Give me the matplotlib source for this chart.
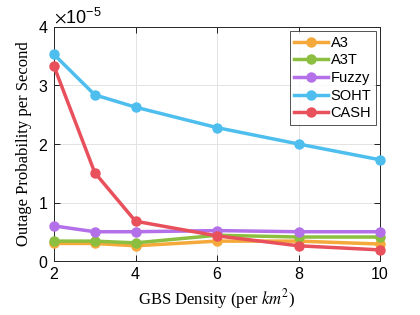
import matplotlib
matplotlib.use("Agg")
import matplotlib.pyplot as plt
from matplotlib.ticker import ScalarFormatter

density = [2, 3, 4, 6, 8, 10]
a3 = [0.30, 0.30, 0.26, 0.34, 0.34, 0.29]
a3t = [0.34, 0.34, 0.31, 0.44, 0.41, 0.41]
fuzzy = [0.60, 0.50, 0.50, 0.52, 0.50, 0.50]
soht = [3.53, 2.84, 2.63, 2.28, 2.00, 1.73]
cash = [3.33, 1.51, 0.68, 0.43, 0.26, 0.19]
scale = 1e-5

series = [("A3", a3, "#F4A93A"), ("A3T", a3t, "#8CBF3F"), ("Fuzzy", fuzzy, "#B370E8"),
          ("SOHT", soht, "#4DBEEE"), ("CASH", cash, "#E8505B")]

plt.rcParams['font.family'] = ['Liberation Sans', 'DejaVu Sans']
plt.rcParams['mathtext.fontset'] = 'stix'

fig = plt.figure(figsize=(4.2, 3.15), dpi=100)
ax = fig.add_axes([0.1286, 0.1714, 0.7762, 0.7429])
for name, vals, col in series:
    ax.plot(density, [v * scale for v in vals], '-o', color=col, lw=2.5, ms=6.5,
            label=name, clip_on=False, zorder=3)

ax.set_xlim(2, 10)
ax.set_ylim(0, 4e-5)
ax.set_xticks([2, 4, 6, 8, 10])
ax.set_yticks([0, 1e-5, 2e-5, 3e-5, 4e-5])
fmt = ScalarFormatter(useMathText=True)
fmt.set_powerlimits((0, 0))
ax.yaxis.set_major_formatter(fmt)
ax.yaxis.get_offset_text().set_fontsize(13)
ax.tick_params(direction='in', top=True, right=True, labelsize=11.5, length=4, width=0.6, pad=4)
ax.grid(True, color='#e3e3e3', lw=0.7, zorder=0)
for s in ax.spines.values():
    s.set_linewidth(0.7)
    s.set_color('#262626')

ax.set_xlabel("GBS Density (per $km^2$)", family='Liberation Serif', fontsize=12)
ax.set_ylabel("Outage Probability per Second", family='Liberation Serif', fontsize=12)

leg = ax.legend(loc='upper right', fontsize=10.5, frameon=True, fancybox=False,
                edgecolor='#262626', handlelength=2.3, handletextpad=0.2,
                borderpad=0.3, labelspacing=0.25, borderaxespad=0.3)
leg.get_frame().set_linewidth(0.7)

fig.savefig("out.png", dpi=100)
